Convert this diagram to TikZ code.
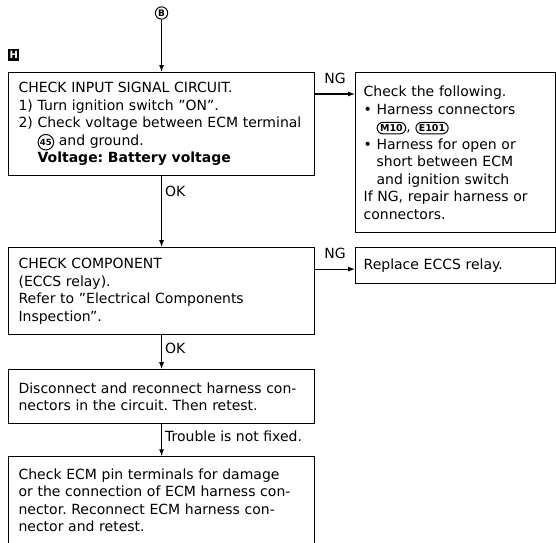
\documentclass[tikz,border=0pt]{standalone}
\usepackage{fontspec}
\setmainfont{DejaVu Sans}
\usetikzlibrary{arrows.meta,positioning}
\tikzset{
	chkbox/.style={rectangle, draw=black, line width=1.1pt, align=left,
		inner xsep=10pt, inner ysep=3pt, text width=286pt, font=\fontsize{14pt}{17.5pt}\selectfont},
	fixbox/.style={chkbox, inner xsep=8pt, text width=184pt},
	chkarr/.style={-{Latex[length=7pt,width=5pt]}, line width=1.1pt},
	chklabel/.style={font=\fontsize{14pt}{17.5pt}\selectfont, inner sep=1pt},
	plain/.style={text width={}, minimum width=0pt, minimum height=0pt, anchor=center, align=center}
}
\newcommand{\pinno}[1]{\tikz[baseline=(p.base)]\node[plain, draw, circle, line width=1pt, inner sep=0.8pt, font=\fontsize{8.5pt}{8.5pt}\selectfont\bfseries] (p) {#1};}
\newcommand{\harn}[1]{\tikz[baseline=(h.base)]\node[plain, draw, rounded corners=6pt, line width=1pt, inner xsep=3pt, inner ysep=2.2pt, font=\fontsize{9.5pt}{9.5pt}\selectfont\bfseries] (h) {#1};}

\begin{document}
\frenchspacing
\begin{tikzpicture}
			\useasboundingbox (0,0) rectangle (556pt,-542pt);
			\node[chkbox, minimum height=103pt, anchor=north west] (sig) at (8pt,-72pt)
				{CHECK INPUT SIGNAL CIRCUIT.\\
				1) Turn ignition switch "ON".\\
				2) Check voltage between ECM terminal\\
				\phantom{2)\ }\pinno{45} and ground.\\
				\phantom{2)\ }\textbf{Voltage: Battery voltage}};
			\node[fixbox, right=40pt of sig.north east, anchor=north west, minimum height=160pt] (repair)
				{Check the following.\\
				\textbullet\ Harness connectors\\
				\phantom{\textbullet\ }\harn{M10}, \harn{E101}\\
				\textbullet\ Harness for open or\\
				\phantom{\textbullet\ }short between ECM\\
				\phantom{\textbullet\ }and ignition switch\\
				If NG, repair harness or\\
				connectors.};
			\node[chkbox, below=71pt of sig, minimum height=87pt] (comp)
				{CHECK COMPONENT\\
				(ECCS relay).\\
				Refer to "Electrical Components\\
				Inspection".};
			\node[fixbox, right=40pt of comp.north east, anchor=north west, minimum height=36pt] (relay)
				{Replace ECCS relay.};
			\node[chkbox, below=34pt of comp, minimum height=54pt] (recon)
				{Disconnect and reconnect harness con-\\
				nectors in the circuit. Then retest.};
			\node[chkbox, below=32pt of recon, minimum height=87pt] (pins)
				{Check ECM pin terminals for damage\\
				or the connection of ECM harness con-\\
				nector. Reconnect ECM harness con-\\
				nector and retest.};
			\node[draw, circle, line width=1pt, inner sep=1pt, font=\fontsize{9pt}{9pt}\selectfont\bfseries] (start) at (sig.north |- 0,-13pt) {B};
			\node[fill=black, text=white, inner sep=0pt, minimum width=11pt, minimum height=12pt,
				font=\fontsize{10pt}{10pt}\selectfont\bfseries, anchor=south west] (tag) at ([yshift=11pt]sig.north west) {H};
			\coordinate (ngA) at ([yshift=-22pt]sig.north east);
			\coordinate (ngB) at ([yshift=-22pt]comp.north east);
			% connectors
			\draw[chkarr] (start) -- (sig);
			\draw[chkarr] (ngA) -- node[chklabel, above, yshift=9pt] {NG} (ngA -| repair.west);
			\draw[chkarr] (sig) -- node[chklabel, pos=0, anchor=north west, xshift=2pt, yshift=-8pt] {OK} (comp);
			\draw[chkarr] (ngB) -- node[chklabel, above, yshift=9pt] {NG} (ngB -| relay.west);
			\draw[chkarr] (comp) -- node[chklabel, pos=0, anchor=north west, xshift=2pt, yshift=-6pt] {OK} (recon);
			\draw[chkarr] (recon) -- node[chklabel, pos=0, anchor=north west, xshift=2pt, yshift=-5pt] {Trouble is not fixed.} (pins);
		\end{tikzpicture}
\end{document}
